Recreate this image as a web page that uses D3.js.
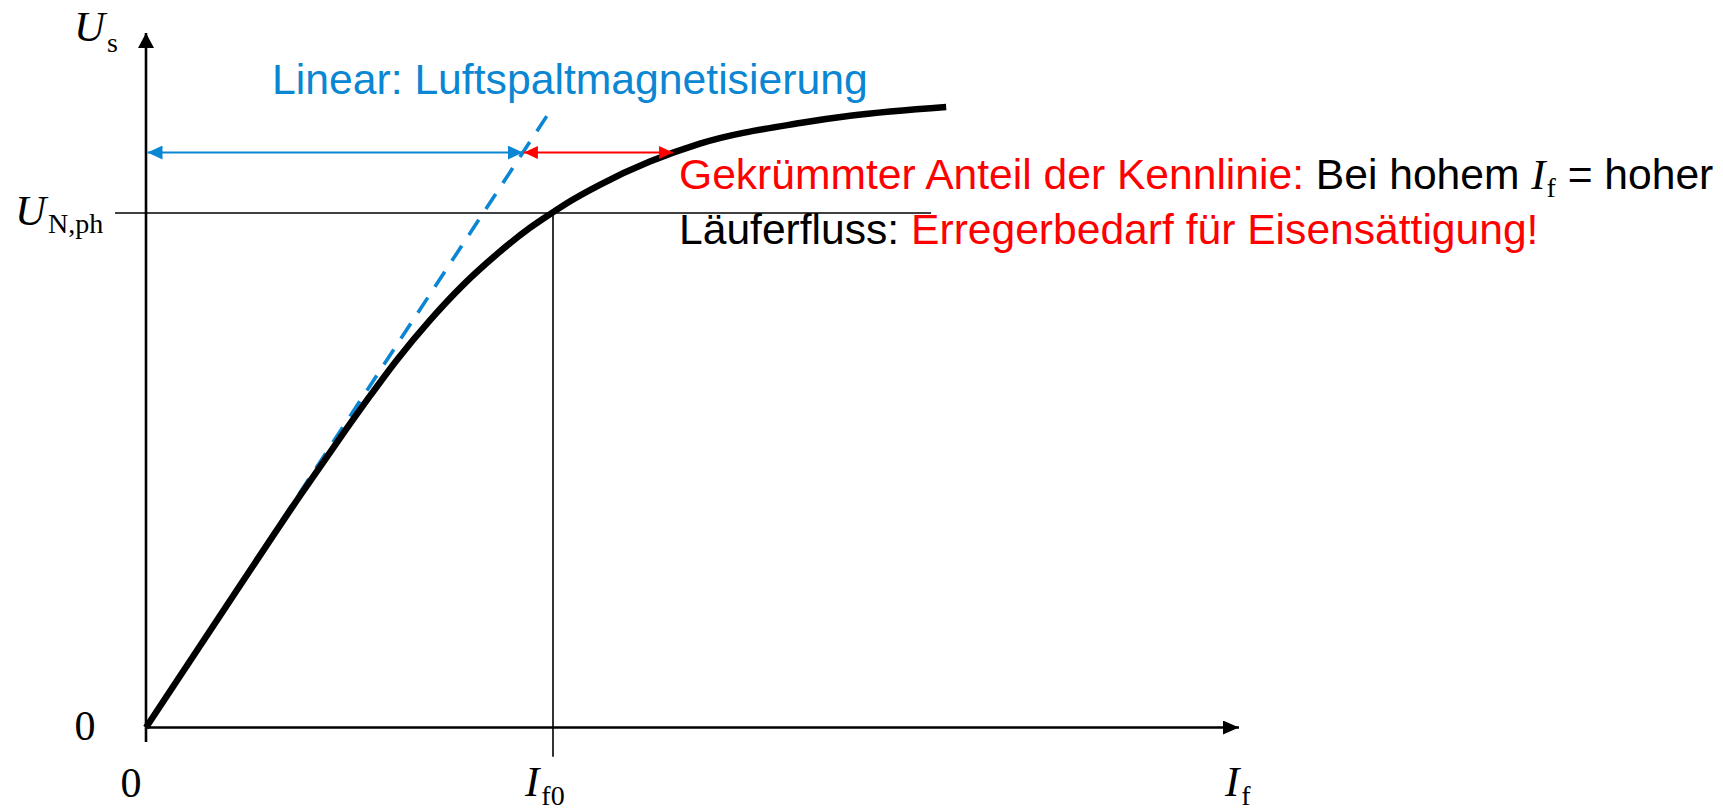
<!DOCTYPE html>
<html><head><meta charset="utf-8">
<script src="https://cdn.jsdelivr.net/npm/d3@7"></script>
<style>
html,body{margin:0;padding:0;background:#fff;overflow:hidden;}
svg{display:block;}
text{white-space:pre;}
</style>
</head><body>
<svg id="c" width="1723" height="811"></svg>
<script>
// ---- data (normalised: I_f0 = 1, U_N,ph = 1) ----
const curveI = [0, 0.231, 0.378, 0.477, 0.550, 0.616, 0.698, 0.780, 0.862, 0.943, 0.993, 1.042, 1.115, 1.238, 1.361, 1.607, 1.730, 1.966];
const curveU = [0, 0.276, 0.450, 0.563, 0.644, 0.714, 0.792, 0.861, 0.920, 0.971, 0.998, 1.023, 1.055, 1.100, 1.135, 1.175, 1.189, 1.206];
const airGapI = [0, 1.0];
const airGapU = [0, 1.207];
const ratedI = 1;          // I_f0
const ratedU = 1;          // U_N,ph
const arrowU = 1.1176;     // height of the two arrows
const arrowSplitI = 0.926; // where linear part meets the curved part
const arrowEndI = 1.295;   // end of curved part arrow
const xMax = 2.6855, yMax = 1.35;
const refLineI = [-0.076, 1.929];  // extent of U_N,ph line
const refLineU = [-0.057, 1];      // extent of I_f0 line
const linearLabel = "Linear: Luftspaltmagnetisierung";
const line1 = [["Gekrümmter Anteil der Kennlinie: ", "red"], ["Bei hohem ", "black"]];
const line1End = " = hoher";
const line2 = [["Läuferfluss: ", "black"], ["Erregerbedarf für Eisensättigung!", "red"]];

const BLUE = "#0a86d3", RED = "#ff0000";
const W = 1723, H = 811;
const m = {left: 146, right: 484, top: 33, bottom: 83.5};
const svg = d3.select("#c");
const x = d3.scaleLinear().domain([0, xMax]).range([m.left, W - m.right]);
const y = d3.scaleLinear().domain([0, yMax]).range([H - m.bottom, m.top]);

const defs = svg.append("defs");
function marker(id, len, half, color) {
  defs.append("marker").attr("id", id)
    .attr("markerUnits", "userSpaceOnUse")
    .attr("viewBox", `0 0 ${len} ${2*half}`)
    .attr("refX", len).attr("refY", half)
    .attr("markerWidth", len).attr("markerHeight", 2*half)
    .attr("orient", "auto-start-reverse")
    .append("path").attr("d", `M0,0L${len},${half}L0,${2*half}Z`).attr("fill", color);
}
marker("axX", 16, 7, "#000");
marker("axY", 15, 8, "#000");
marker("bl", 15, 7, BLUE);
marker("rd", 14, 6.5, RED);

// reference lines
svg.append("line").attr("x1", x(refLineI[0])).attr("x2", x(refLineI[1]))
  .attr("y1", y(ratedU)).attr("y2", y(ratedU)).attr("stroke", "#000").attr("stroke-width", 1.6);
svg.append("line").attr("x1", x(ratedI)).attr("x2", x(ratedI))
  .attr("y1", y(refLineU[1])).attr("y2", y(refLineU[0])).attr("stroke", "#000").attr("stroke-width", 1.6);

// axes
svg.append("line").attr("x1", x(0)).attr("x2", x(xMax)).attr("y1", y(0)).attr("y2", y(0))
  .attr("stroke", "#000").attr("stroke-width", 2.6).attr("marker-end", "url(#axX)");
svg.append("line").attr("x1", x(0)).attr("x2", x(0)).attr("y1", y(-0.028)).attr("y2", y(yMax))
  .attr("stroke", "#000").attr("stroke-width", 2.6).attr("marker-end", "url(#axY)");

// air gap line (dashed)
const line = d3.line().x(d => x(d[0])).y(d => y(d[1]));
svg.append("path").datum(airGapI.map((v, i) => [v, airGapU[i]]))
  .attr("d", line).attr("fill", "none").attr("stroke", BLUE)
  .attr("stroke-width", 3.6).attr("stroke-dasharray", "18,13");

// magnetisation curve
svg.append("path").datum(curveI.map((v, i) => [v, curveU[i]]))
  .attr("d", line.curve(d3.curveMonotoneX)).attr("fill", "none")
  .attr("stroke", "#000").attr("stroke-width", 6.5).attr("stroke-linecap", "butt");

// arrows
svg.append("line").attr("x1", x(0) + 1.5).attr("x2", x(arrowSplitI)).attr("y1", y(arrowU)).attr("y2", y(arrowU))
  .attr("stroke", BLUE).attr("stroke-width", 2)
  .attr("marker-start", "url(#bl)").attr("marker-end", "url(#bl)");
svg.append("line").attr("x1", x(arrowSplitI) + 1).attr("x2", x(arrowEndI)).attr("y1", y(arrowU)).attr("y2", y(arrowU))
  .attr("stroke", RED).attr("stroke-width", 2)
  .attr("marker-start", "url(#rd)").attr("marker-end", "url(#rd)");

// ---- texts ----
const SANS = "'Liberation Sans', Arial, sans-serif";
const SERIF = "'Liberation Serif', 'Times New Roman', serif";

function mathLabel(xp, yp, main, sub, subDy) {
  const t = svg.append("text").attr("x", xp).attr("y", yp).attr("font-family", SERIF).attr("fill", "#000");
  t.append("tspan").attr("font-size", 43).attr("font-style", "italic").text(main);
  t.append("tspan").attr("font-size", 28).attr("dx", 2).attr("dy", subDy).text(sub);
  return t;
}
// y axis
mathLabel(x(0) - 72, y(yMax) + 8, "U", "s", 11);
mathLabel(x(0) - 131, y(ratedU) + 12, "U", "N,ph", 8);
svg.append("text").attr("x", x(0) - 61).attr("y", y(0) + 12.5).attr("text-anchor", "middle")
  .attr("font-family", SERIF).attr("font-size", 42).text("0");
// x axis
svg.append("text").attr("x", x(0) - 15).attr("y", y(0) + 69).attr("text-anchor", "middle")
  .attr("font-family", SERIF).attr("font-size", 42).text("0");
mathLabel(x(ratedI) - 28, y(0) + 68, "I", "f0", 9);
mathLabel(x(xMax) - 14, y(0) + 68, "I", "f", 9);

// annotation: linear
svg.append("text").attr("x", 272).attr("y", 94).attr("font-family", SANS).attr("font-size", 42.7)
  .attr("fill", BLUE).text(linearLabel);

// annotation: curved
const t1 = svg.append("text").attr("x", 679).attr("y", 189).attr("font-family", SANS).attr("font-size", 42.6);
line1.forEach(([s, c]) => t1.append("tspan").attr("fill", c).text(s));
t1.append("tspan").attr("font-family", SERIF).attr("font-style", "italic").attr("fill", "#000").text("I");
t1.append("tspan").attr("font-family", SERIF).attr("font-size", 28).attr("dx", 1).attr("dy", 8).attr("fill", "#000").text("f");
t1.append("tspan").attr("dy", -8).attr("fill", "#000").text(line1End);
const t2 = svg.append("text").attr("x", 679).attr("y", 244).attr("font-family", SANS).attr("font-size", 42.6);
line2.forEach(([s, c]) => t2.append("tspan").attr("fill", c).text(s));
</script>
</body></html>
